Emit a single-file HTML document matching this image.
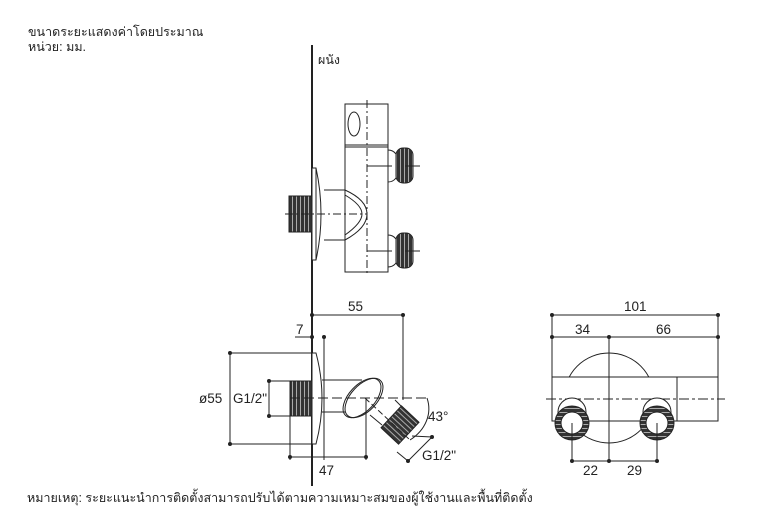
<!DOCTYPE html>
<html><head><meta charset="utf-8"><style>
html,body{margin:0;padding:0;background:#fff;}
svg{display:block}
text{font-family:"Liberation Sans","Noto Sans CJK SC",sans-serif;fill:#222}
.t{font-size:12.5px}
.d{font-size:13.5px}
</style></head><body>
<svg width="769" height="519" viewBox="0 0 769 519" xmlns="http://www.w3.org/2000/svg">
<defs>
<pattern id="thr" width="2" height="4" patternUnits="userSpaceOnUse"><rect width="2" height="4" fill="#333"/><rect width="2" height="1" fill="#aaa"/></pattern>
<pattern id="thv" width="4" height="2" patternUnits="userSpaceOnUse"><rect width="4" height="2" fill="#333"/><rect width="1" height="2" fill="#aaa"/></pattern>
</defs>
<text class="t" x="28" y="36">ขนาดระยะแสดงค่าโดยประมาณ</text>
<text class="t" x="28" y="51">หน่วย: มม.</text>
<text class="t" x="318" y="64">ผนัง</text>
<text class="t" x="27" y="502">หมายเหตุ: ระยะแนะนำการติดตั้งสามารถปรับได้ตามความเหมาะสมของผู้ใช้งานและพื้นที่ติดตั้ง</text>

<g stroke="#222" fill="none" stroke-width="1">
<line x1="312" y1="45" x2="312" y2="486" stroke-width="2"/>

<!-- TOP VIEW -->
<rect x="345" y="104" width="43" height="168" fill="#fff"/>
<line x1="345" y1="145" x2="388" y2="145"/><line x1="345" y1="147" x2="388" y2="147"/>
<ellipse cx="354" cy="124" rx="6" ry="12"/>
<line x1="367" y1="100" x2="367" y2="276" stroke-dasharray="8,3,2,3"/>
<line x1="367" y1="166" x2="392" y2="166"/><line x1="367" y1="251" x2="392" y2="251"/>
<path d="M388 150 Q398 150 400 166 Q398 182 388 182"/>
<rect x="396" y="148" width="17" height="35" rx="7" fill="url(#thv)"/>
<path d="M388 235 Q398 235 400 251 Q398 267 388 267"/>
<rect x="396" y="233" width="17" height="35" rx="7" fill="url(#thv)"/>
<line x1="405" y1="166" x2="420" y2="166"/><line x1="405" y1="251" x2="420" y2="251"/>
<path d="M312 168 L316 168 Q326 214 316 260 L312 260 Z" fill="#fff"/>
<line x1="316" y1="168" x2="316" y2="260"/>
<path d="M324 190 L345 190 Q367 200 367 214 Q367 228 345 240 L324 240"/>
<path d="M345 195 Q362 205 362 214 Q362 223 345 235"/>
<rect x="289" y="196" width="23" height="36" fill="url(#thv)"/>
<line x1="285" y1="214" x2="367" y2="214" stroke-dasharray="8,3,2,3"/>

<!-- SIDE VIEW -->
<path d="M312 353 L316 353 Q328 398 316 444 L312 444 Z" fill="#fff"/>
<rect x="290" y="381" width="22" height="35" fill="url(#thv)"/>
<path d="M322 380 L362 380 M322 412 L345 412"/>
<ellipse cx="364" cy="398" rx="13" ry="24" transform="rotate(43 364 398)" fill="#fff"/>
<ellipse cx="362" cy="398" rx="13" ry="24" transform="rotate(43 362 398)"/>
<path d="M370 415 L382 425 M395 400 L405 410"/>
<g transform="rotate(43 400 425)"><rect x="388" y="410" width="24" height="30" fill="url(#thr)"/></g>
<line x1="290" y1="398" x2="430" y2="398" stroke-dasharray="10,4"/>
<line x1="365" y1="398" x2="410" y2="440" stroke-dasharray="6,3"/>
<path d="M427 398 A50 40 0 0 1 410 440"/>
<line x1="230" y1="353" x2="312" y2="353"/><line x1="230" y1="444" x2="312" y2="444"/>
<line x1="230" y1="353" x2="230" y2="444"/>
<line x1="269" y1="381" x2="290" y2="381"/><line x1="269" y1="416" x2="290" y2="416"/>
<line x1="269" y1="381" x2="269" y2="416"/>
<line x1="312" y1="315" x2="403" y2="315"/><line x1="403" y1="315" x2="403" y2="400"/>
<line x1="295" y1="337" x2="312" y2="337"/><line x1="324" y1="337" x2="324" y2="460"/>
<line x1="290" y1="416" x2="290" y2="460"/><line x1="366" y1="398" x2="366" y2="460"/>
<line x1="290" y1="457" x2="366" y2="457"/>
<line x1="408" y1="461" x2="432" y2="437"/>
<line x1="412" y1="436" x2="432" y2="437"/><line x1="397" y1="452" x2="408" y2="461"/>

<!-- FRONT VIEW -->
<circle cx="609" cy="398" r="45" fill="#fff"/>
<rect x="552" y="377" width="125" height="44" fill="#fff"/>
<rect x="677" y="377" width="41" height="44" fill="#fff"/>
<line x1="552" y1="315" x2="552" y2="377"/><line x1="718" y1="315" x2="718" y2="377"/>
<line x1="552" y1="315" x2="718" y2="315"/><line x1="552" y1="337" x2="718" y2="337"/>
<line x1="609" y1="337" x2="609" y2="461"/>
<line x1="546" y1="399" x2="725" y2="399" stroke-dasharray="10,3,3,3"/>
<circle cx="572" cy="412" r="14" fill="#fff"/><circle cx="657" cy="412" r="14" fill="#fff"/>
<circle cx="572" cy="423" r="17" fill="url(#thr)"/><circle cx="572" cy="423" r="11" fill="#fff"/>
<circle cx="657" cy="423" r="17" fill="url(#thr)"/><circle cx="657" cy="423" r="11" fill="#fff"/>
<line x1="572" y1="423" x2="572" y2="461"/><line x1="657" y1="423" x2="657" y2="461"/>
<line x1="572" y1="461" x2="657" y2="461"/>
</g>
<g fill="#222">
<circle cx="312" cy="315" r="2"/><circle cx="403" cy="315" r="2"/>
<circle cx="312" cy="337" r="2"/><circle cx="324" cy="337" r="2"/>
<circle cx="230" cy="353" r="2"/><circle cx="230" cy="444" r="2"/>
<circle cx="269" cy="381" r="2"/><circle cx="269" cy="416" r="2"/>
<circle cx="290" cy="457" r="2"/><circle cx="366" cy="457" r="2"/>
<circle cx="408" cy="461" r="2"/><circle cx="432" cy="437" r="2"/>
<circle cx="552" cy="315" r="2"/><circle cx="718" cy="315" r="2"/>
<circle cx="552" cy="337" r="2"/><circle cx="609" cy="337" r="2"/><circle cx="718" cy="337" r="2"/>
<circle cx="572" cy="461" r="2"/><circle cx="609" cy="461" r="2"/><circle cx="657" cy="461" r="2"/>
</g>
<text class="d" x="348" y="311">55</text>
<text class="d" x="296" y="334">7</text>
<text class="d" x="199" y="403">ø55</text>
<text class="d" x="233" y="403">G1/2"</text>
<text class="d" x="319" y="475">47</text>
<text class="d" x="428" y="421">43°</text>
<text class="d" x="422" y="460">G1/2"</text>
<text class="d" x="624" y="311">101</text>
<text class="d" x="575" y="334">34</text>
<text class="d" x="656" y="334">66</text>
<text class="d" x="583" y="475">22</text>
<text class="d" x="627" y="475">29</text>
</svg>
</body></html>
